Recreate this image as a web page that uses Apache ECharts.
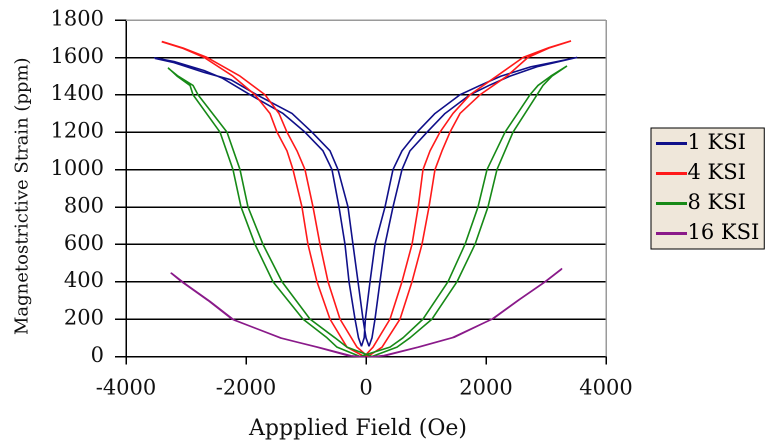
<!DOCTYPE html>
<html>
<head>
<meta charset="utf-8">
<script src="https://cdn.jsdelivr.net/npm/echarts@6/dist/echarts.min.js"></script>
<style>
html,body{margin:0;padding:0;background:#fff;overflow:hidden;}
#chart{width:1542px;height:886px;position:absolute;left:0;top:0;transform:scale(0.5);transform-origin:0 0;}
#aux{width:20px;height:20px;position:absolute;left:-200px;top:0;}
</style>
</head>
<body>
<div id="chart"></div><div id="aux"></div>
<script>
const seriesNames = ['1 KSI', '4 KSI', '8 KSI', '16 KSI'];
const xTicks = [-4000, -2000, 0, 2000, 4000];
const yTicks = [0, 200, 400, 600, 800, 1000, 1200, 1400, 1600, 1800];

// each loop: branch shifted right (R) and branch shifted left (L), ascending field
const ksi1R = [[-3520,1595],[-3200,1572],[-2700,1520],[-2250,1480],[-1820,1400],[-1233,1300],[-900,1200],[-600,1100],[-467,1000],[-300,800],[-217,600],[-133,400],[-50,200],[0,100],[50,55],[100,100],[150,200],[233,400],[317,600],[450,800],[600,1000],[733,1100],[1017,1200],[1317,1300],[1733,1400],[2050,1450],[2400,1500],[2850,1550],[3520,1600]];
const ksi1L = [[-3530,1598],[-3200,1578],[-2700,1530],[-2400,1490],[-1930,1400],[-1383,1300],[-1017,1200],[-717,1100],[-567,1000],[-450,800],[-350,600],[-283,400],[-183,200],[-125,100],[-75,55],[-30,100],[-10,200],[67,400],[150,600],[317,800],[450,1000],[600,1100],[850,1200],[1150,1300],[1567,1400],[1900,1450],[2250,1500],[2750,1550],[3500,1598]];

const ksi4R = [[-3400,1685],[-3050,1650],[-2650,1600],[-2100,1500],[-1683,1400],[-1450,1300],[-1317,1200],[-1150,1100],[-1017,1000],[-883,800],[-767,600],[-633,400],[-433,200],[-150,50],[30,0],[267,50],[567,200],[767,400],[933,600],[1050,800],[1150,1000],[1267,1100],[1400,1200],[1567,1300],[1900,1400],[2350,1500],[2700,1600],[3050,1650],[3417,1688]];
const ksi4L = [[-3405,1684],[-3050,1648],[-2700,1600],[-2220,1500],[-1850,1400],[-1600,1300],[-1483,1200],[-1317,1100],[-1217,1000],[-1067,800],[-967,600],[-817,400],[-600,200],[-317,50],[-30,0],[117,50],[400,200],[600,400],[767,600],[870,800],[950,1000],[1067,1100],[1233,1200],[1450,1300],[1733,1400],[2180,1500],[2620,1600],[3050,1652],[3410,1686]];

const ksi8R = [[-3295,1542],[-3133,1500],[-2883,1450],[-2800,1400],[-2317,1200],[-2100,1000],[-1967,800],[-1717,600],[-1400,400],[-933,200],[-517,100],[-317,50],[100,0],[517,50],[733,100],[1100,200],[1517,400],[1817,600],[2033,800],[2183,1000],[2450,1200],[2850,1400],[2950,1450],[3100,1500],[3350,1554]];
const ksi8L = [[-3300,1545],[-3150,1500],[-2933,1450],[-2883,1400],[-2433,1200],[-2217,1000],[-2083,800],[-1850,600],[-1550,400],[-1050,200],[-650,100],[-483,50],[-100,0],[400,50],[617,100],[950,200],[1367,400],[1650,600],[1867,800],[2017,1000],[2317,1200],[2733,1400],[2867,1450],[3080,1500],[3340,1550]];

const ksi16R = [[-3255,448],[-3072,400],[-2633,300],[-2233,200],[-1433,100],[-817,50],[-300,5],[0,-5],[300,5],[867,50],[1433,100],[2100,200],[2533,300],[2983,400],[3267,471]];
const ksi16L = [[-3240,445],[-3040,395],[-2600,295],[-2200,195],[-1400,97],[-780,48],[-250,4],[50,-5],[340,6],[900,52],[1470,103],[2130,205],[2560,305],[3010,405],[3250,465]];

const loops = [[ksi1R, ksi1L], [ksi4R, ksi4L], [ksi8R, ksi8L], [ksi16R, ksi16L]];
const colors = ['#10108a', '#ff1a1a', '#178a17', '#8a1a8a'];
const FONT = 'DejaVu Serif';
const S = 2; // the chart is drawn at 2x and shown at half size

const chartSeries = loops.map((lp, i) => ({
  name: seriesNames[i],
  type: 'line',
  data: lp[0].concat(lp[1].slice().reverse()),
  showSymbol: false,
  symbol: 'none',
  smooth: false,
  color: colors[i],
  lineStyle: {width: 1.6 * S, color: colors[i]},
  emphasis: {disabled: true},
  z: 3,
  animation: false
}));

chartSeries[0].markLine = {
  silent: true, symbol: 'none', animation: false,
  label: {show: false},
  lineStyle: {color: '#9a9a9a', width: 1.5 * S, type: 'solid'},
  data: [{yAxis: yTicks[yTicks.length - 1]}, {xAxis: xTicks[xTicks.length - 1]}]
};

const plain = v => String(v);

const option = {
  animation: false,
  backgroundColor: '#ffffff',
  grid: {left: 126 * S, right: 165 * S, top: 20 * S, bottom: 86 * S, show: false},
  xAxis: {
    type: 'value', min: xTicks[0], max: xTicks[xTicks.length - 1], interval: 2000,
    axisLine: {show: true, onZero: false, lineStyle: {color: '#000', width: 1.5 * S}},
    axisTick: {show: true, inside: false, length: 8 * S, lineStyle: {color: '#000', width: 1.5 * S}},
    axisLabel: {margin: 22 * S, fontFamily: FONT, fontSize: 21 * S, color: '#111', formatter: plain},
    splitLine: {show: false},
    name: 'Appplied Field (Oe)', nameLocation: 'middle', nameGap: 62 * S,
    nameTextStyle: {fontFamily: FONT, fontSize: 22 * S, color: '#111', padding: [0, 16 * S, 0, 0]}
  },
  yAxis: {
    type: 'value', min: yTicks[0], max: yTicks[yTicks.length - 1], interval: 200,
    axisLine: {show: true, onZero: false, lineStyle: {color: '#000', width: 1.5 * S}},
    axisTick: {show: true, inside: false, length: 11 * S, lineStyle: {color: '#000', width: 1.5 * S}},
    axisLabel: {margin: 22 * S, fontFamily: FONT, fontSize: 21 * S, color: '#111', formatter: plain},
    splitLine: {show: true, lineStyle: {color: '#000', width: 1.6 * S}},
    name: 'Magnetostrictive Strain (ppm)', nameLocation: 'middle', nameGap: 94 * S,
    nameTextStyle: {fontFamily: FONT, fontSize: 18 * S, color: '#111', padding: [0, 16 * S, 0, 0]}
  },
  legend: {
    data: seriesNames,
    orient: 'vertical', left: 651 * S, top: 128 * S,
    backgroundColor: '#efe7da', borderColor: '#000', borderWidth: 1 * S,
    padding: [5 * S, 5 * S, 5 * S, 5 * S], itemGap: 9 * S,
    itemWidth: 31 * S, itemHeight: 3 * S, icon: 'rect',
    textStyle: {fontFamily: FONT, fontSize: 21 * S, color: '#000', padding: [0, 0, 0, -2 * S]}
  },
  series: chartSeries
};

const chart = echarts.init(document.getElementById('chart'));
chart.setOption(option);
const aux = echarts.init(document.getElementById('aux'));
aux.setOption({animation: false, xAxis: {type: 'value', show: false}, yAxis: {type: 'value', show: false}, series: []});
</script>
</body>
</html>
